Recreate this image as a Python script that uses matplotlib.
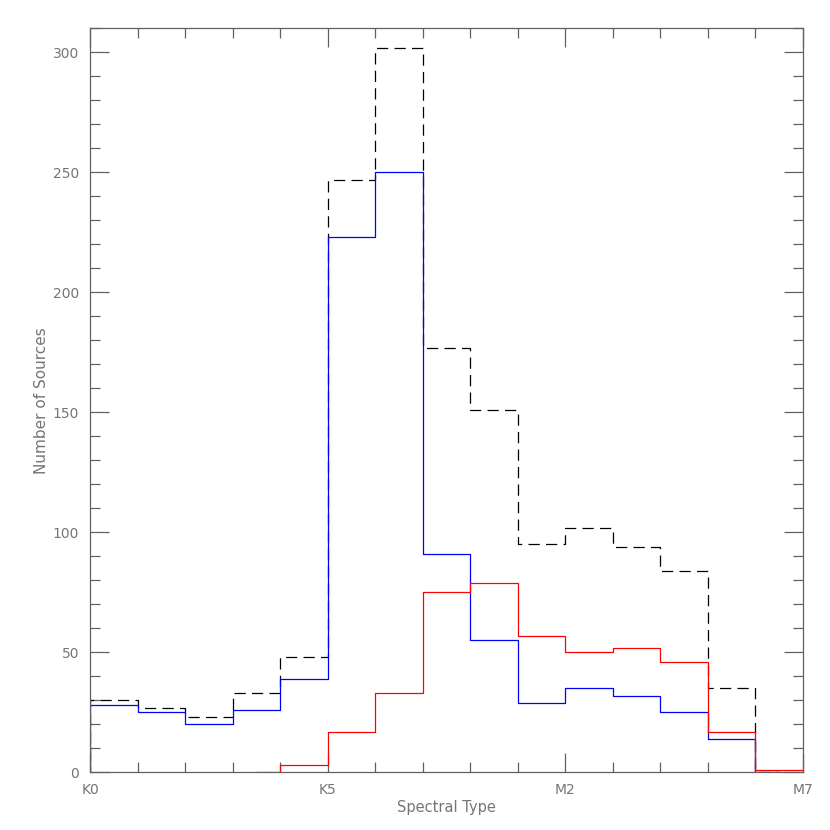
import numpy as np
import matplotlib
matplotlib.use("Agg")
from matplotlib import pyplot as plt
from matplotlib.ticker import MultipleLocator

# spectral type index: K0=0 ... K7=7, M0=8 ... M7=15 ; values at bin centres
tick_pos = [0, 5, 10, 15]
tick_labels = ["K0", "K5", "M2", "M7"]

# all sources (dashed), centres -0.5 ... 14.5
all_start = -0.5
all_counts = [0, 30, 27, 23, 33, 48, 247, 302, 177, 151, 95, 102, 94, 84, 35, 0]

# blue sample, centres -0.5 ... 14.5
blue_start = -0.5
blue_counts = [0, 28, 25, 20, 26, 39, 223, 250, 91, 55, 29, 35, 32, 25, 14, 0]

# red sample, centres 3.5 ... 15.5
red_start = 3.5
red_counts = [0, 3, 17, 33, 75, 79, 57, 50, 52, 46, 17, 1, 0]

axcol = "#606060"
txtcol = "#757575"

fig = plt.figure(figsize=(8.3, 8.3), dpi=100)
ax = fig.add_axes([0.1088, 0.0695, 0.8583, 0.8964])

def centres(start, vals):
    return start + np.arange(len(vals))

ax.step(centres(all_start, all_counts), all_counts, where="mid", color="black",
        lw=0.9, linestyle=(0, (9, 5)))
ax.step(centres(blue_start, blue_counts), blue_counts, where="mid", color="blue", lw=0.9)
ax.step(centres(red_start, red_counts), red_counts, where="mid", color="red", lw=0.9)

ax.set_xlim(0, 15)
ax.set_ylim(0, 310)
ax.set_xticks(tick_pos)
ax.set_xticklabels(tick_labels)
ax.xaxis.set_minor_locator(MultipleLocator(1))
ax.yaxis.set_major_locator(MultipleLocator(50))
ax.yaxis.set_minor_locator(MultipleLocator(10))

ax.tick_params(which="both", direction="in", top=True, right=True,
               color=axcol, labelcolor=txtcol, labelsize=10, width=0.9)
ax.tick_params(which="major", length=14, pad=8)
ax.tick_params(which="minor", length=7)
for s in ax.spines.values():
    s.set_color(axcol)
    s.set_linewidth(0.9)

ax.set_xlabel("Spectral Type", color=txtcol, fontsize=10.5, labelpad=2)
ax.set_ylabel("Number of Sources", color=txtcol, fontsize=11, labelpad=3)

fig.savefig("out.png", dpi=100)
